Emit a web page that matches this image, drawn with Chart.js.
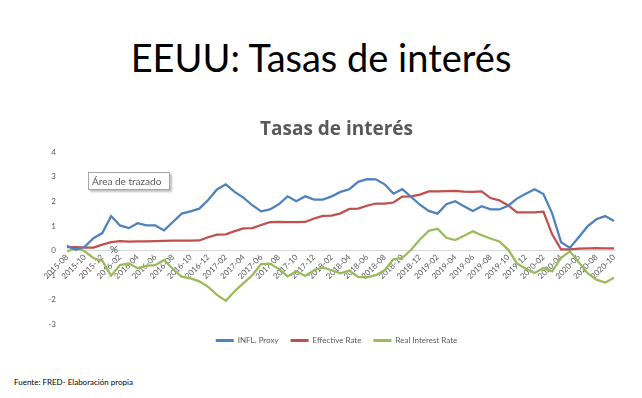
<!DOCTYPE html>
<html>
<head>
<meta charset="utf-8">
<script src="https://cdn.jsdelivr.net/npm/chart.js"></script>
<style>
  body { margin: 0; background: #fff; }
  #slide { position: relative; width: 642px; height: 398px; overflow: hidden; font-family: Lato, sans-serif; }
  #bigTitle { position: absolute; left: 0; top: 38px; width: 642px; text-align: center; font-size: 38px; line-height: 38px; color: #000; }
  #chartBox { position: absolute; left: 0; top: 100px; }
  #plotTip { position: absolute; left: 88px; top: 172px; width: 82px; height: 18px; box-sizing: border-box; border: 1px solid #a6a6a6; background: #fff;
             box-shadow: 2px 2px 2px rgba(0,0,0,0.25); font-size: 10px; line-height: 16px; color: #595959; padding-left: 3px; }
  #pct { position: absolute; left: 110px; top: 243px; font-size: 10px; color: #404040; }
  #fuente { position: absolute; left: 14px; top: 377px; font-size: 8px; color: #000; }
</style>
</head>
<body>
<div id="slide">
  <div id="bigTitle">EEUU: Tasas de interés</div>
  <div id="chartBox"><canvas id="line-chart" width="642" height="260"></canvas></div>
  <div id="plotTip">Área de trazado</div>
  <div id="pct">%</div>
  <div id="fuente">Fuente: FRED- Elaboración propia</div>
</div>
<script>
// meses 2015-08 .. 2020-10
var months = ['2015-08','2015-09','2015-10','2015-11','2015-12',
  '2016-01','2016-02','2016-03','2016-04','2016-05','2016-06','2016-07','2016-08','2016-09','2016-10','2016-11','2016-12',
  '2017-01','2017-02','2017-03','2017-04','2017-05','2017-06','2017-07','2017-08','2017-09','2017-10','2017-11','2017-12',
  '2018-01','2018-02','2018-03','2018-04','2018-05','2018-06','2018-07','2018-08','2018-09','2018-10','2018-11','2018-12',
  '2019-01','2019-02','2019-03','2019-04','2019-05','2019-06','2019-07','2019-08','2019-09','2019-10','2019-11','2019-12',
  '2020-01','2020-02','2020-03','2020-04','2020-05','2020-06','2020-07','2020-08','2020-09','2020-10'];

// INFL. Proxy
var inflProxy = [0.19,0.03,0.15,0.50,0.71,1.40,1.02,0.91,1.11,1.02,
  1.02,0.82,1.16,1.50,1.59,1.70,2.05,2.48,2.69,2.38,
  2.15,1.84,1.59,1.67,1.88,2.20,2.00,2.20,2.07,2.07,
  2.20,2.38,2.49,2.79,2.90,2.89,2.69,2.31,2.49,2.18,
  1.86,1.61,1.50,1.88,2.00,1.80,1.61,1.80,1.67,1.67,
  1.82,2.11,2.31,2.49,2.29,1.50,0.34,0.11,0.54,0.98,
  1.27,1.40,1.20];

// Effective Rate
var effRate = [0.14,0.14,0.12,0.12,0.24,0.34,0.38,0.36,0.37,0.37,
  0.38,0.39,0.40,0.40,0.40,0.41,0.54,0.65,0.66,0.79,
  0.90,0.91,1.04,1.15,1.16,1.15,1.15,1.16,1.30,1.41,
  1.42,1.51,1.69,1.70,1.82,1.91,1.91,1.95,2.19,2.20,
  2.27,2.40,2.40,2.41,2.42,2.39,2.38,2.40,2.13,2.04,
  1.83,1.55,1.55,1.55,1.58,0.65,0.05,0.05,0.08,0.09,
  0.10,0.09,0.09];

// Real Interest Rate
var realRate = [-0.04,0.11,-0.03,-0.30,-0.41,-1.02,-0.59,-0.52,-0.72,-0.61,
  -0.59,-0.38,-0.75,-1.06,-1.13,-1.25,-1.47,-1.80,-2.04,-1.65,
  -1.32,-1.00,-0.55,-0.53,-0.74,-1.05,-0.84,-1.03,-0.80,-0.68,
  -0.80,-0.92,-0.81,-1.07,-1.09,-1.00,-0.80,-0.35,-0.30,0.03,
  0.45,0.80,0.89,0.52,0.43,0.60,0.78,0.62,0.49,0.37,
  0.04,-0.52,-0.74,-0.91,-0.71,-0.84,-0.30,-0.03,-0.47,-0.92,
  -1.18,-1.30,-1.10];

var yTicks = [-3, -2, -1, 0, 1, 2, 3, 4];

Chart.defaults.font.family = 'Lato, sans-serif';
Chart.defaults.color = '#595959';

function makeLine(label, data, color) {
  return {
    label: label,
    data: data,
    borderColor: color,
    backgroundColor: color,
    borderWidth: 2.25,
    pointRadius: 0,
    tension: 0,
    fill: false
  };
}

// el eje y es angosto (para centrar título/leyenda); se agranda su zona de etiquetas
var yLabelRoom = {
  id: 'yLabelRoom',
  afterLayout: function (chart) {
    var y = chart.scales.y;
    y.left = y.right - 40;
  }
};

var ctx = document.getElementById('line-chart');
var myChart = new Chart(ctx, {
  type: 'line',
  data: {
    labels: months,
    datasets: [
      makeLine('INFL. Proxy', inflProxy, '#4F81BD'),
      makeLine('Effective Rate', effRate, '#C0504D'),
      makeLine('Real Interest Rate', realRate, '#9BBB59')
    ]
  },
  plugins: [yLabelRoom],
  options: {
    responsive: false,
    animation: false,
    devicePixelRatio: 1,
    layout: { padding: { left: 59, right: 28, top: 0, bottom: 5.5 } },
    plugins: {
      tooltip: { enabled: false },
      title: {
        display: true,
        text: 'Tasas de interés',
        color: '#595959',
        font: { family: '"Open Sans", sans-serif', size: 19, weight: 'bold' },
        padding: { top: 18, bottom: 11.2 }
      },
      legend: {
        position: 'bottom',
        labels: {
          boxWidth: 18,
          boxHeight: 3,
          padding: 12,
          color: '#595959',
          font: { size: 8 },
          generateLabels: function (chart) {
            var items = Chart.defaults.plugins.legend.labels.generateLabels(chart);
            items.forEach(function (it) { it.lineWidth = 0; });
            return items;
          }
        }
      }
    },
    scales: {
      x: {
        position: { y: 0 },
        offset: false,
        grid: { display: false, drawTicks: false },
        border: { display: true, color: '#d9d9d9', width: 1 },
        ticks: {
          autoSkip: false,
          minRotation: 45,
          maxRotation: 45,
          padding: 2,
          color: '#595959',
          font: { size: 8 },
          // sólo meses pares (cada 2)
          callback: function (value, index) {
            return index % 2 === 0 ? months[index] : '';
          }
        },
        afterFit: function (scale) {
          scale.height = 0;
          scale.paddingLeft = 0;
          scale.paddingRight = 0;
        }
      },
      y: {
        min: yTicks[0],
        max: yTicks[yTicks.length - 1],
        grid: { display: false, drawTicks: false },
        border: { display: false },
        afterBuildTicks: function (scale) {
          scale.ticks = yTicks.map(function (v) { return { value: v }; });
        },
        ticks: {
          padding: 11,
          color: '#595959',
          font: { size: 8 }
        },
        afterFit: function (scale) {
          scale.width = 8;
          scale.paddingTop = 0;
          scale.paddingBottom = 0;
        }
      }
    }
  }
});
</script>
</body>
</html>
